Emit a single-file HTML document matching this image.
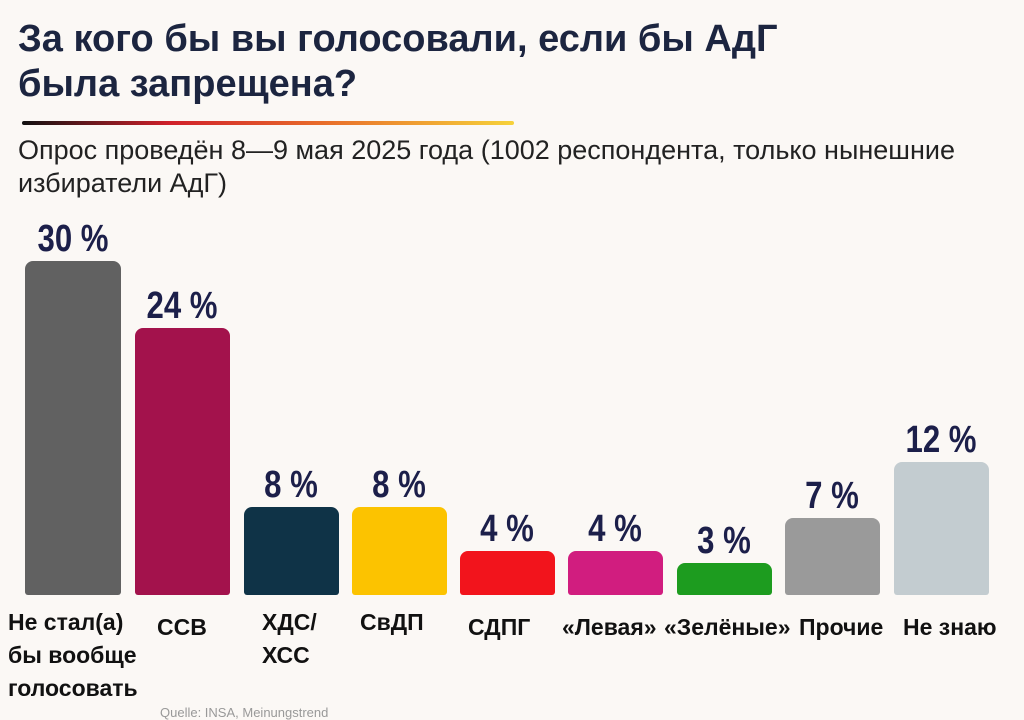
<!DOCTYPE html>
<html><head><meta charset="utf-8"><style>
body{margin:0;width:1024px;height:715px;background:#fbf8f5;position:relative;overflow:hidden;font-family:"Liberation Sans",sans-serif;}
.t{position:absolute;left:18px;top:17px;font-size:38px;font-weight:bold;color:#1c2540;line-height:45px;letter-spacing:0px;}
.line{position:absolute;left:22px;top:121px;width:492px;height:4px;background:linear-gradient(90deg,#111 0%,#d0202a 30%,#e86a2a 60%,#f6d23a 100%);border-radius:2px;}
.s{position:absolute;left:18px;top:134px;font-size:27px;color:#222;line-height:33px;letter-spacing:0px;}
.b{position:absolute;border-radius:8px 8px 3px 3px;}
.v{position:absolute;width:110px;text-align:center;font-family:"Liberation Sans Narrow","Liberation Sans",sans-serif;font-weight:bold;font-size:38px;color:#1c1f4a;transform:scaleX(.82);}
.l{position:absolute;font-size:23px;font-weight:bold;color:#111;line-height:33px;white-space:nowrap;}
</style></head><body>
<div class="t">За кого бы вы голосовали, если бы АдГ<br>была запрещена?</div>
<div class="line"></div>
<div class="s">Опрос проведён 8—9 мая 2025 года (1002 респондента, только нынешние<br>избиратели АдГ)</div>

<div class="b" style="left:25px;top:261px;width:96px;height:334px;background:#616161"></div>
<div class="b" style="left:135px;top:328px;width:95px;height:267px;background:#a3124c"></div>
<div class="b" style="left:244px;top:507px;width:95px;height:88px;background:#0f3347"></div>
<div class="b" style="left:352px;top:507px;width:95px;height:88px;background:#fcc300"></div>
<div class="b" style="left:460px;top:551px;width:95px;height:44px;background:#f2141c"></div>
<div class="b" style="left:568px;top:551px;width:95px;height:44px;background:#d11d7f"></div>
<div class="b" style="left:677px;top:563px;width:95px;height:32px;background:#1d9c1f"></div>
<div class="b" style="left:785px;top:518px;width:95px;height:77px;background:#9a9a9a"></div>
<div class="b" style="left:894px;top:462px;width:95px;height:133px;background:#c3ccd0"></div>

<div class="v" style="left:18px;top:218px">30 %</div>
<div class="v" style="left:127px;top:285px">24 %</div>
<div class="v" style="left:236px;top:464px">8 %</div>
<div class="v" style="left:344px;top:464px">8 %</div>
<div class="v" style="left:452px;top:508px">4 %</div>
<div class="v" style="left:560px;top:508px">4 %</div>
<div class="v" style="left:669px;top:520px">3 %</div>
<div class="v" style="left:777px;top:475px">7 %</div>
<div class="v" style="left:886px;top:419px">12 %</div>

<div class="l" style="left:8px;top:606px">Не стал(а)<br>бы вообще<br>голосовать</div>
<div class="l" style="left:157px;top:611px">ССВ</div>
<div class="l" style="left:262px;top:606px">ХДС/<br>ХСС</div>
<div class="l" style="left:360px;top:606px">СвДП</div>
<div class="l" style="left:468px;top:611px">СДПГ</div>
<div class="l" style="left:562px;top:611px">«Левая»</div>
<div class="l" style="left:664px;top:611px">«Зелёные»</div>
<div class="l" style="left:799px;top:611px">Прочие</div>
<div class="l" style="left:903px;top:611px">Не знаю</div>
<div style="position:absolute;left:160px;top:705px;font-size:13px;color:#999">Quelle: INSA, Meinungstrend</div>
</body></html>
